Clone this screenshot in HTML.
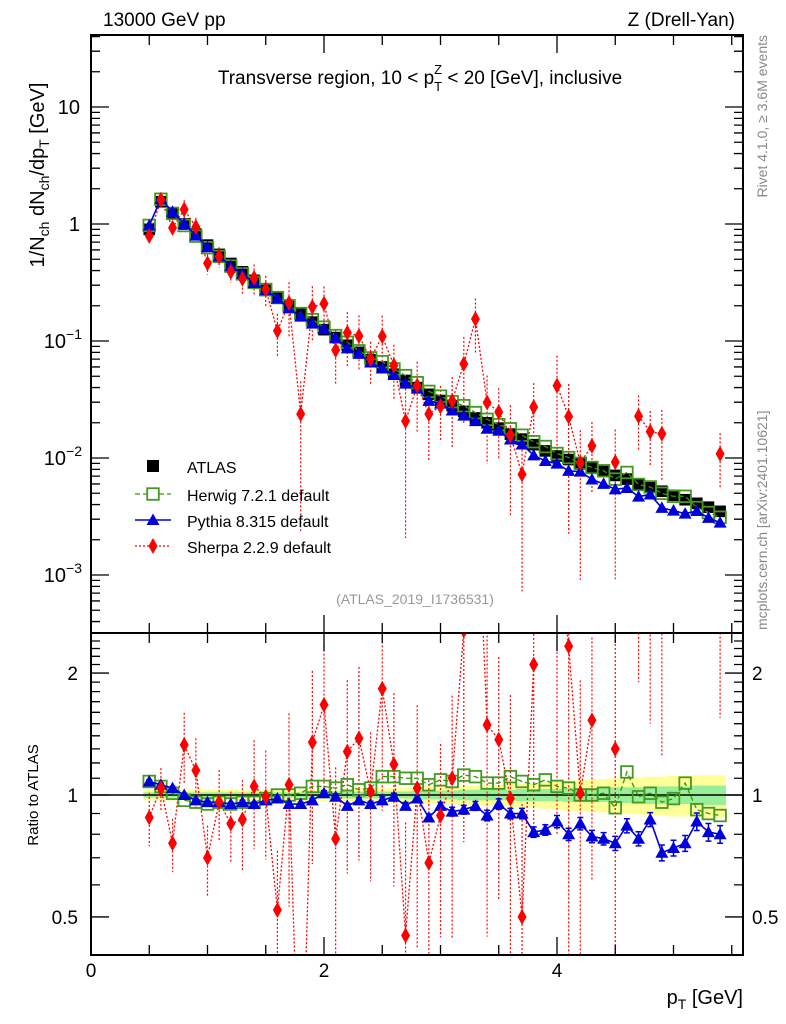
<!DOCTYPE html>
<html><head><meta charset="utf-8"><style>
html,body{margin:0;background:#fff;overflow:hidden;width:786px;height:1024px;}
svg{display:block;font-family:"Liberation Sans",sans-serif;}
</style></head><body>
<svg id="c" width="786" height="1024" viewBox="0 0 786 1024">
<defs>
<clipPath id="cm"><rect x="91" y="35" width="652" height="598"/></clipPath>
<clipPath id="cr"><rect x="91" y="633" width="652" height="322"/></clipPath>
</defs>
<g id="bands" clip-path="url(#cr)"></g>
<g id="marks"></g>
<rect x="91" y="35" width="652" height="598" fill="none" stroke="#000" stroke-width="2"/>
<rect x="91" y="633" width="652" height="322" fill="none" stroke="#000" stroke-width="2"/>
<g id="ticks"></g>
<text x="103" y="26" font-size="19">13000 GeV pp</text>
<text x="735" y="26" font-size="19" text-anchor="end">Z (Drell-Yan)</text>
<text x="420" y="84" font-size="19" text-anchor="middle">Transverse region, 10 &lt; p<tspan font-size="13" dy="7">T</tspan><tspan font-size="13" dx="-8" dy="-17">Z</tspan><tspan dy="10"> &lt; 20 [GeV], inclusive</tspan></text>
<text x="415" y="604" font-size="14" fill="#999" text-anchor="middle">(ATLAS_2019_I1736531)</text>
<text transform="translate(44,175) rotate(-90)" font-size="20" text-anchor="middle">1/N<tspan font-size="14" dy="5">ch</tspan><tspan dy="-5"> dN</tspan><tspan font-size="14" dy="5">ch</tspan><tspan dy="-5">/dp</tspan><tspan font-size="14" dy="5">T</tspan><tspan dy="-5"> [GeV]</tspan></text>
<text transform="translate(38,795) rotate(-90)" font-size="15" text-anchor="middle">Ratio to ATLAS</text>
<text x="743" y="1004" font-size="20" text-anchor="end">p<tspan font-size="14" dy="5">T</tspan><tspan dy="-5"> [GeV]</tspan></text>
<text transform="translate(767,35) rotate(-90)" font-size="14" fill="#888" text-anchor="end">Rivet 4.1.0, ≥ 3.6M events</text>
<text transform="translate(767,630) rotate(-90)" font-size="14" fill="#888" text-anchor="start">mcplots.cern.ch [arXiv:2401.10621]</text>
<g id="legend"></g>
</svg>
<script>
const xVals=[0.5,0.6,0.7,0.8,0.9,1.0,1.1,1.2,1.3,1.4,1.5,1.6,1.7,1.8,1.9,2.0,2.1,2.2,2.3,2.4,2.5,2.6,2.7,2.8,2.9,3.0,3.1,3.2,3.3,3.4,3.5,3.6,3.7,3.8,3.9,4.0,4.1,4.2,4.3,4.4,4.5,4.6,4.7,4.8,4.9,5.0,5.1,5.2,5.3,5.4];
const atlas=[0.9,1.55,1.22,1.0,0.82,0.66,0.55,0.46,0.39,0.33,0.28,0.235,0.2,0.17,0.145,0.125,0.107,0.092,0.08,0.069,0.06,0.052,0.046,0.04,0.035,0.031,0.028,0.025,0.022,0.02,0.018,0.016,0.0145,0.013,0.0115,0.0104,0.0097,0.009,0.0083,0.0077,0.0071,0.0066,0.006,0.0056,0.0052,0.0048,0.0044,0.0041,0.0038,0.0035];
const herwigRatio=[1.08,1.05,1.01,0.97,0.96,0.95,0.96,0.95,0.96,0.96,0.98,1.0,1.0,1.01,1.05,1.05,1.04,1.06,1.03,1.04,1.11,1.11,1.10,1.10,1.06,1.09,1.08,1.12,1.11,1.07,1.07,1.11,1.08,1.06,1.09,1.05,1.04,1.0,1.0,1.01,0.93,1.14,0.99,1.01,0.96,0.98,1.07,0.92,0.9,0.89];
const pythiaRatio=[1.08,1.06,1.04,1.0,0.97,0.96,0.96,0.95,0.96,0.95,0.97,0.98,0.95,0.95,0.97,1.01,0.99,0.94,0.97,0.95,0.97,0.99,0.94,0.98,0.88,0.94,0.91,0.92,0.94,0.89,0.95,0.9,0.9,0.81,0.82,0.86,0.8,0.85,0.79,0.78,0.76,0.84,0.78,0.87,0.72,0.74,0.76,0.86,0.81,0.8];
const sherpaRatio=[0.88,1.04,0.76,1.33,1.15,0.70,0.96,0.85,0.87,1.05,0.99,0.52,1.06,0.14,1.35,1.67,0.78,1.28,1.38,1.02,1.83,1.19,0.45,1.04,0.68,0.89,1.10,2.55,7.0,1.49,1.37,0.98,0.50,2.1,null,4.0,2.33,1.01,1.53,null,1.30,null,3.8,3.0,3.1,null,null,null,null,3.1];
const sherpaErr=[0.15,0.12,0.15,0.2,0.2,0.2,0.2,0.2,0.25,0.3,0.3,0.4,0.5,0.9,0.5,0.4,0.5,0.5,0.5,0.4,0.5,0.5,0.9,0.6,0.6,0.5,0.6,0.7,0.5,0.7,0.6,0.8,0.9,0.6,0,0.8,0.9,0.9,0.6,0,0.9,0,0.5,0.5,0.6,0,0,0,0,0.5];
const pythiaErr=[0.01,0.01,0.01,0.01,0.01,0.01,0.01,0.01,0.01,0.01,0.01,0.01,0.01,0.01,0.01,0.015,0.015,0.015,0.015,0.015,0.02,0.02,0.02,0.02,0.02,0.02,0.025,0.025,0.025,0.03,0.03,0.03,0.03,0.03,0.03,0.035,0.035,0.035,0.035,0.035,0.04,0.04,0.04,0.04,0.045,0.045,0.045,0.05,0.05,0.05];
const bandTot=[0.03,0.03,0.03,0.03,0.03,0.03,0.03,0.03,0.03,0.03,0.03,0.03,0.03,0.035,0.035,0.035,0.035,0.035,0.04,0.04,0.04,0.04,0.045,0.045,0.05,0.05,0.05,0.055,0.055,0.06,0.06,0.065,0.07,0.07,0.075,0.08,0.085,0.09,0.09,0.095,0.1,0.1,0.105,0.11,0.11,0.115,0.115,0.12,0.12,0.12];
const bandStat=[0.015,0.015,0.015,0.015,0.015,0.015,0.015,0.015,0.015,0.015,0.015,0.015,0.015,0.015,0.02,0.02,0.02,0.02,0.02,0.02,0.02,0.02,0.02,0.025,0.025,0.025,0.025,0.03,0.03,0.03,0.03,0.03,0.035,0.035,0.035,0.035,0.04,0.04,0.04,0.04,0.045,0.045,0.045,0.05,0.05,0.05,0.05,0.055,0.055,0.055];
const mainTicks=[{v:10,l:"10"},{v:1,l:"1"},{v:0.1,l:"10",e:"−1"},{v:0.01,l:"10",e:"−2"},{v:0.001,l:"10",e:"−3"}];
const ratioTicks=[{v:2,l:"2"},{v:1,l:"1"},{v:0.5,l:"0.5"}];
const xTicks=[0,2,4];

const NS="http://www.w3.org/2000/svg";
const X=v=>91+116.5*v;
const Ym=v=>224-117*Math.log10(v);
const Yr=r=>795-405*Math.log10(r);
function el(tag,attrs,parent){const e=document.createElementNS(NS,tag);for(const k in attrs)e.setAttribute(k,attrs[k]);parent.appendChild(e);return e;}
const marks=document.getElementById('marks');
const gm=el('g',{'clip-path':'url(#cm)'},marks);
const gr=el('g',{'clip-path':'url(#cr)'},marks);
const bands=document.getElementById('bands');
const hw=5.8;
function bandPath(arr){let top='',bot='';xVals.forEach((x,i)=>{const a=X(x-0.05),b=X(x+0.05);top+=(i?'L':'M')+a+','+Yr(1+arr[i])+'L'+b+','+Yr(1+arr[i]);});for(let i=xVals.length-1;i>=0;i--){const a=X(xVals[i]-0.05),b=X(xVals[i]+0.05);bot+='L'+b+','+Yr(1-arr[i])+'L'+a+','+Yr(1-arr[i]);}return top+bot+'Z';}
const bt=el('path',{d:bandPath(bandTot),fill:'#ffff99'},bands);


const bs=el('path',{d:bandPath(bandStat),fill:'#99ee99'},bands);


const ref=el('line',{x1:91,x2:743,y1:Yr(1),y2:Yr(1),stroke:'#000','stroke-width':1.5},bands);



function linePath(vals,yf){let d='',pen=false;vals.forEach((v,i)=>{if(v==null){pen=false;return;}d+=(pen?'L':'M')+X(xVals[i])+','+yf(v);pen=true;});return d;}
const herwigMain=atlas.map((a,i)=>a*herwigRatio[i]);
const pythiaMain=atlas.map((a,i)=>a*pythiaRatio[i]);
const sherpaMain=atlas.map((a,i)=>sherpaRatio[i]==null?null:a*sherpaRatio[i]);
function sq(g,x,y,fill,stroke){return el('rect',{x:x-hw,y:y-hw,width:2*hw,height:2*hw,fill:fill,stroke:stroke,'stroke-width':stroke=='none'?0:1.8},g);}
function tri(g,x,y){return el('path',{d:`M${x},${y-6.5}L${x+6.5},${y+5}L${x-6.5},${y+5}Z`,fill:'#0000dd'},g);}
function dia(g,x,y){return el('path',{d:`M${x},${y-8}L${x+4.5},${y}L${x},${y+8}L${x-4.5},${y}Z`,fill:'#ff0000'},g);}
const clampY=y=>Math.max(0,Math.min(960,y));

function drawPanel(g,yf,isMain){
  const ys=isMain?{h:herwigMain,p:pythiaMain,s:sherpaMain}:{h:herwigRatio,p:pythiaRatio,s:sherpaRatio};
  ys.s.forEach((v,i)=>{if(v==null)return;const e=sherpaErr[i];const lo=v*(1-e);const y2=lo<=v*0.011?960:clampY(yf(lo));const l=el('line',{x1:X(xVals[i]),x2:X(xVals[i]),y1:clampY(yf(v*(1+e))),y2:y2,stroke:'#ff0000','stroke-width':1.2,'stroke-dasharray':'2,2'},g);
    
    });
  const sl=el('path',{d:linePath(ys.s,yf),fill:'none',stroke:'#ff0000','stroke-width':1.3,'stroke-dasharray':'2,2'},g);
  
  
  if(isMain){atlas.forEach((v,i)=>{const r=sq(g,X(xVals[i]),yf(v),'#000','none');
    
    });}
  const hl=el('path',{d:linePath(ys.h,yf),fill:'none',stroke:'#339900','stroke-width':1.3,'stroke-dasharray':'5,3'},g);
  
  
  ys.h.forEach((v,i)=>{const r=sq(g,X(xVals[i]),yf(v),'none','#449922');
    
    });
  const pl=el('path',{d:linePath(ys.p,yf),fill:'none',stroke:'#0000dd','stroke-width':1.6},g);
  
  
  ys.p.forEach((v,i)=>{const x=X(xVals[i]);
    if(!isMain){const e=el('path',{d:`M${x},${yf(v*(1+pythiaErr[i]))}V${yf(v*(1-pythiaErr[i]))}M${x-3},${yf(v*(1+pythiaErr[i]))}h6M${x-3},${yf(v*(1-pythiaErr[i]))}h6`,stroke:'#0000dd','stroke-width':1.5,fill:'none'},g);
      
      }
    const t=tri(g,x,yf(v));
    
    });
  ys.s.forEach((v,i)=>{if(v==null)return;const d=dia(g,X(xVals[i]),yf(v));
    
    });
}
drawPanel(gm,Ym,true);
drawPanel(gr,Yr,false);

const tk=document.getElementById('ticks');
let td='';
for(let d=-4;d<=1;d++){for(let m=1;m<=9;m++){const v=m*Math.pow(10,d);const y=Ym(v);if(y<35||y>633)continue;const L=m==1?18:9;td+=`M91,${y}h${L}M743,${y}h${-L}`;}}
for(let r=0.4;r<=2.5;r+=0.1){const y=Yr(r);if(y<634||y>954)continue;const maj=Math.abs(r-0.5)<1e-6||Math.abs(r-1)<1e-6||Math.abs(r-2)<1e-6;const L=maj?18:9;td+=`M91,${y}h${L}M743,${y}h${-L}`;}
for(let x=0;x<=5.5;x+=0.5){const px=X(x);const maj=Math.abs(x%2)<1e-6;const L=maj?18:10;td+=`M${px},633v${-L}M${px},633v${L}M${px},955v${-L}M${px},35v${L}`;}
const tp=el('path',{d:td,stroke:'#000','stroke-width':1.3,fill:'none'},tk);


mainTicks.forEach(t=>{const tx=el('text',{x:80,y:Ym(t.v)+7,'font-size':20,'text-anchor':'end'},tk);tx.textContent=t.l;
  if(t.e){const s=document.createElementNS(NS,'tspan');s.setAttribute('font-size','14');s.setAttribute('dy','-9');s.textContent=t.e;tx.appendChild(s);tx.setAttribute('x',82);}
  
  });
ratioTicks.forEach(t=>{[[78,'end'],[752,'start']].forEach(p=>{const tx=el('text',{x:p[0],y:Yr(t.v)+7,'font-size':19,'text-anchor':p[1]},tk);tx.textContent=t.l;
  
  });});
xTicks.forEach(v=>{const tx=el('text',{x:X(v),y:977,'font-size':19,'text-anchor':'middle'},tk);tx.textContent=String(v);
  
  });

const lg=document.getElementById('legend');
const rows=[['ATLAS',466],['Herwig 7.2.1 default',494],['Pythia 8.315 default',520],['Sherpa 2.2.9 default',546]];
rows.forEach((r,i)=>{const y=r[1];const x=153;
  const g=el('g',{},lg);
  
  
  if(i==0){el('rect',{x:x-6,y:y-6,width:12,height:12,fill:'#000'},g);}
  if(i==1){el('line',{x1:x-18,x2:x+18,y1:y,y2:y,stroke:'#339900','stroke-width':1.3,'stroke-dasharray':'5,3'},g);sq(g,x,y,'#fff','#449922');}
  if(i==2){el('line',{x1:x-18,x2:x+18,y1:y,y2:y,stroke:'#0000dd','stroke-width':1.6},g);tri(g,x,y);}
  if(i==3){el('line',{x1:x-18,x2:x+18,y1:y,y2:y,stroke:'#ff0000','stroke-width':1.3,'stroke-dasharray':'2,2'},g);dia(g,x,y);}
  const t=el('text',{x:187,y:y+7,'font-size':16},g);t.textContent=r[0];});
</script>
</body></html>
